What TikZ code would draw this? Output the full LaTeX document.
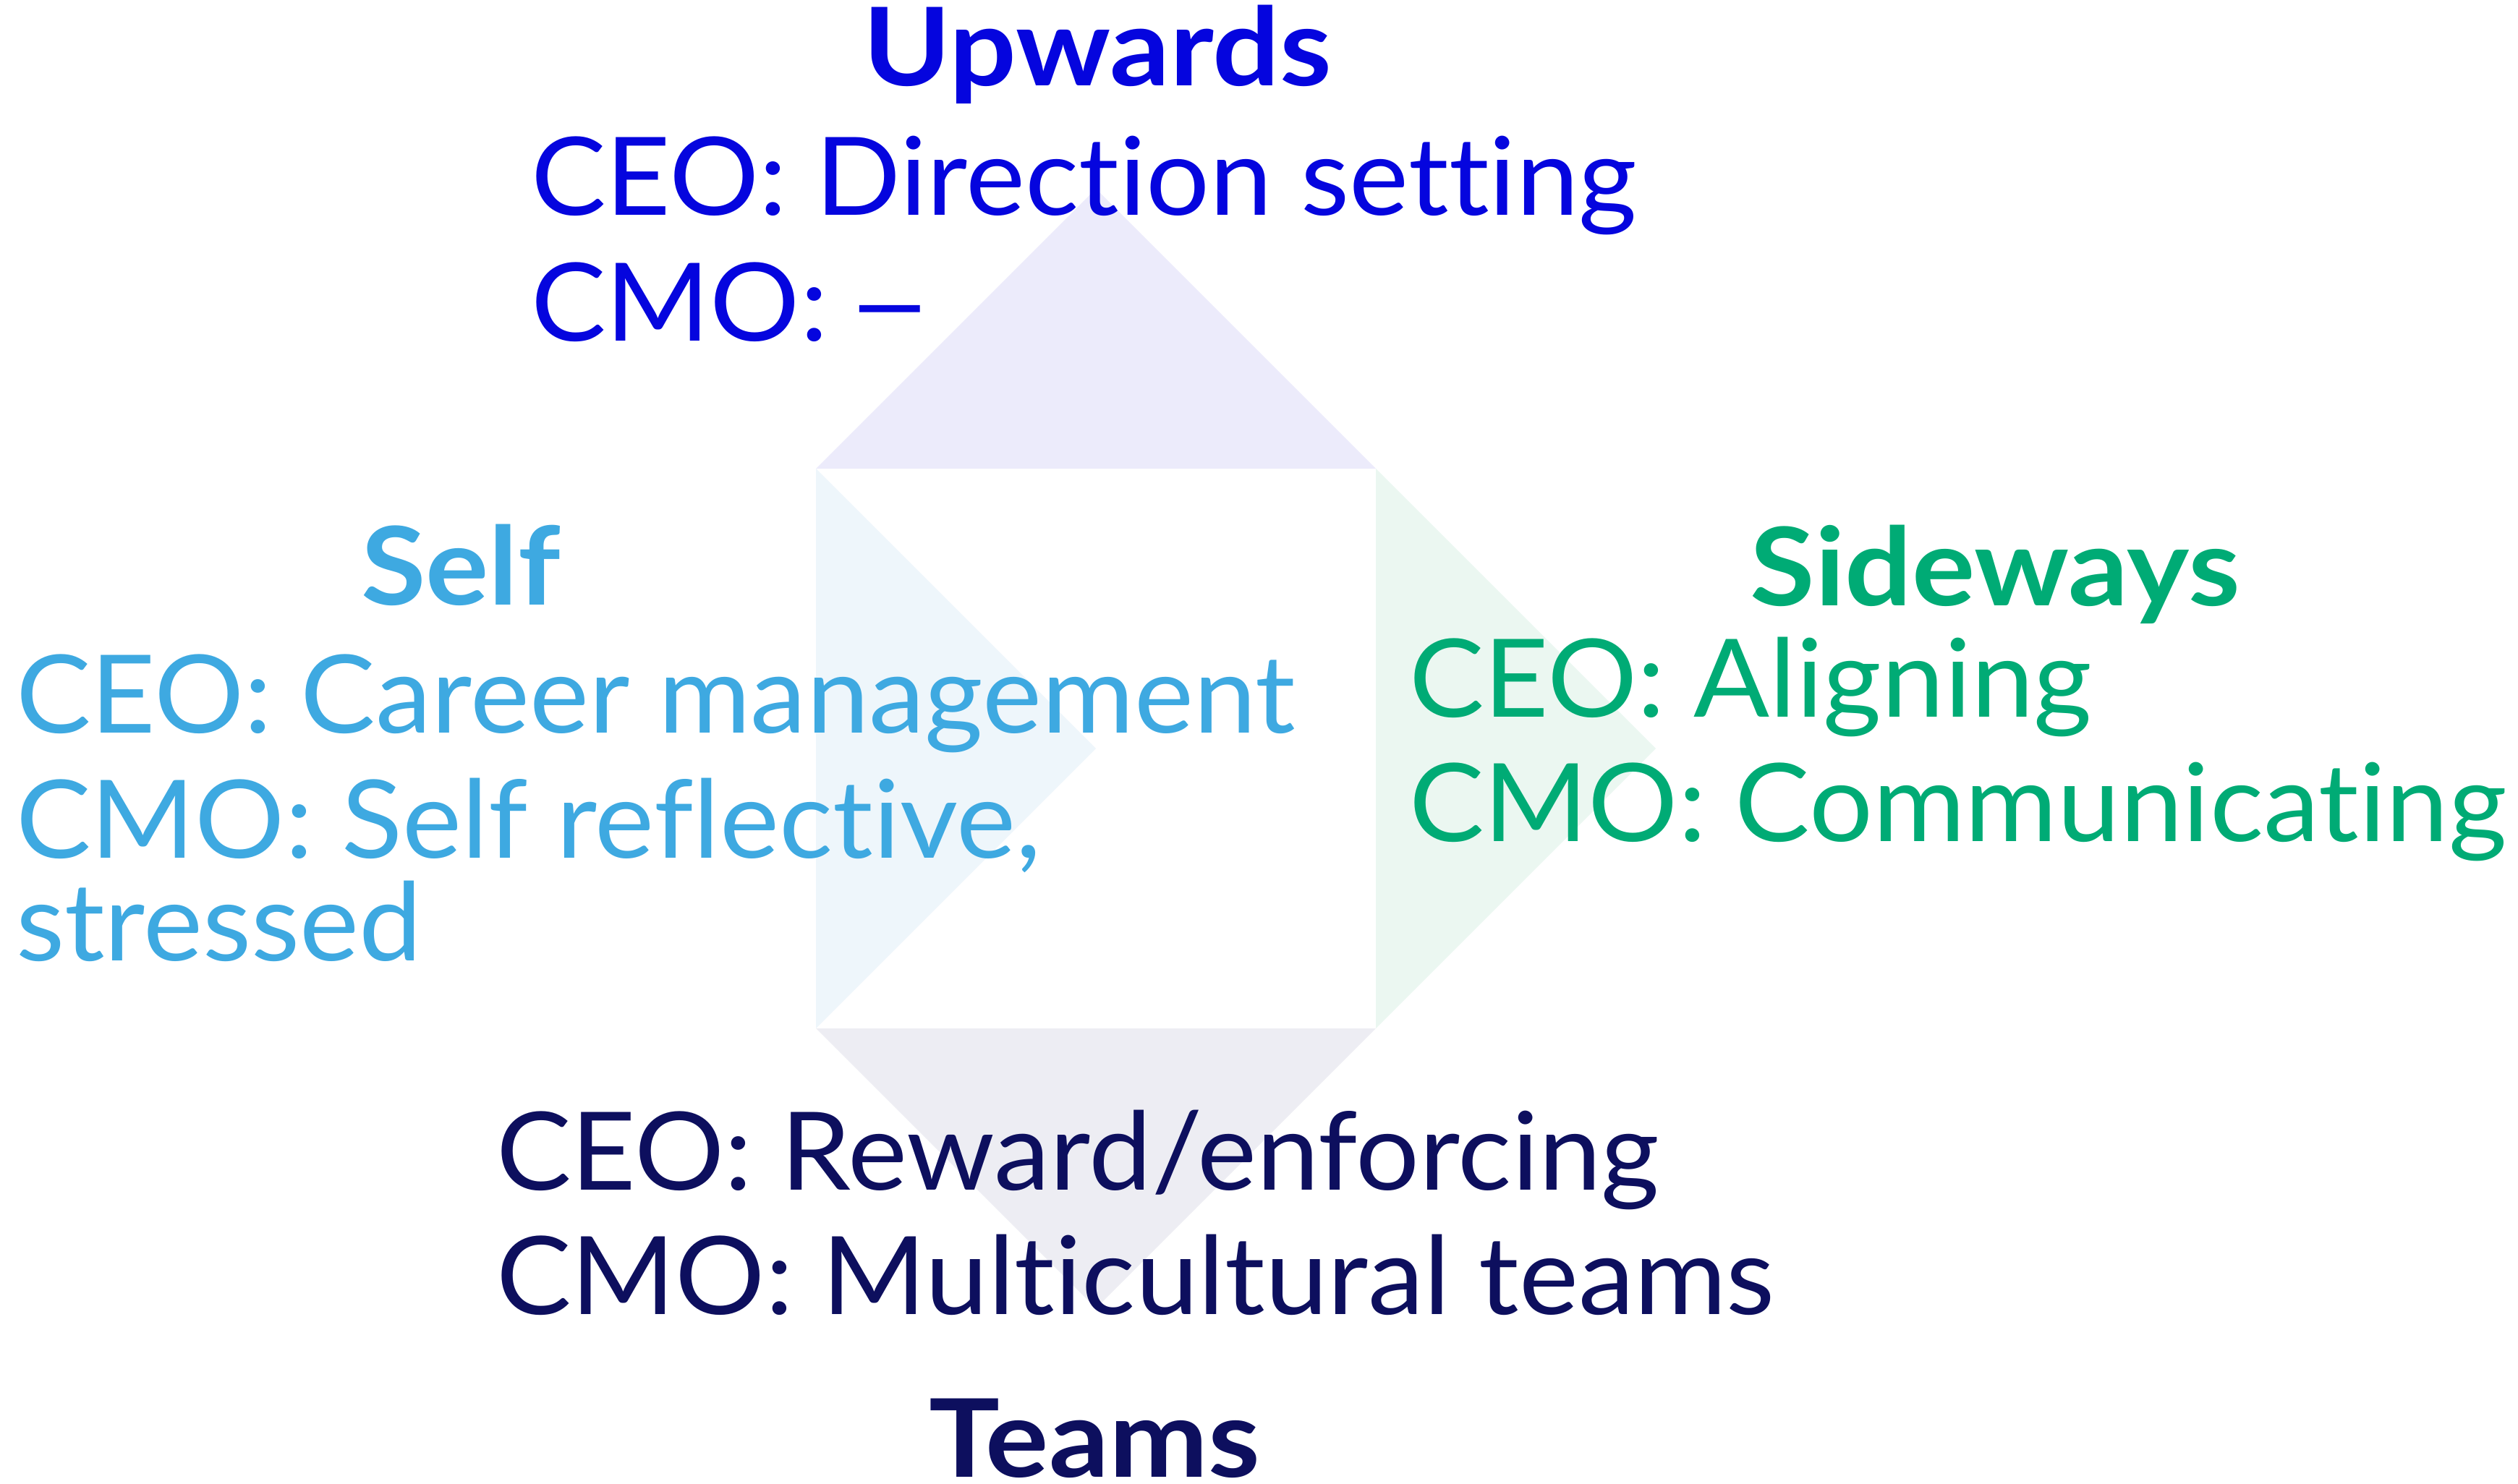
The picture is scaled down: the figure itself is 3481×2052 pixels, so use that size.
\documentclass[tikz,border=0pt]{standalone}
\usepackage{fontspec}
\setmainfont{Lato}[Ligatures=NoCommon,FakeStretch=1.035]
\newfontfamily\headfont{Lato}[Ligatures=NoCommon,FakeStretch=1.09]
\definecolor{upBlue}{HTML}{0505DE}
\definecolor{selfBlue}{HTML}{3EA9E1}
\definecolor{sideGreen}{HTML}{00AB75}
\definecolor{teamNavy}{HTML}{0D0F5E}
\definecolor{upFill}{HTML}{ECEBFB}
\definecolor{selfFill}{HTML}{EEF6FB}
\definecolor{sideFill}{HTML}{EBF7F1}
\definecolor{teamFill}{HTML}{EDEDF3}
\begin{document}
\begin{tikzpicture}[x=0.2pt,y=-0.2pt,
    head/.style={font=\fontsize{30}{36}\headfont\bfseries,inner sep=0pt,anchor=base},
    item/.style={font=\fontsize{30}{36}\selectfont,inner sep=0pt,anchor=base west}]
  \useasboundingbox (0,0) rectangle (3481,2052);
  \def\cx{1515}  % centre of the square
  \def\cy{1035}
  \def\h{387}    % half side = height of a triangle

% define roleLine (#name, #x, #baseline, #color, #text)
  \def\roleLine(#1,#2,#3,#4,#5){
    \node[item,color=#4] (#1) at (#2,#3) {#5};}

  % the four triangles round the square
  \coordinate (sq-nw) at (\cx-\h,\cy-\h);
  \coordinate (sq-ne) at (\cx+\h,\cy-\h);
  \coordinate (sq-sw) at (\cx-\h,\cy+\h);
  \coordinate (sq-se) at (\cx+\h,\cy+\h);
  \fill[upFill]   (sq-nw) -- (\cx,\cy-2*\h) -- (sq-ne) -- cycle;
  \fill[selfFill] (sq-nw) -- (\cx,\cy) -- (sq-sw) -- cycle;
  \fill[sideFill] (sq-ne) -- (\cx+2*\h,\cy) -- (sq-se) -- cycle;
  \fill[teamFill] (sq-sw) -- (\cx,\cy+2*\h) -- (sq-se) -- cycle;

  % headings
  \node[head,color=upBlue]    (up)   at (1517,119)  {Upwards};
  \node[head,color=selfBlue]  (self) at (637,836)   {Self};
  \node[head,color=sideGreen] (side) at (2758,837)  {Sideways};
  \node[head,color=teamNavy]  (team) at (1513,2042) {Teams};

  \roleLine(up-ceo,   733,298,   upBlue,    CEO: Direction setting)
  \roleLine(up-cmo,   733,471,   upBlue,    CMO:\hspace{-3pt} \scalebox{1.35}[1]{–})
  \roleLine(self-ceo, 21,1013,   selfBlue,  CEO: Career management)
  \roleLine(self-cmo, 21,1186,   selfBlue,  CMO: Self reflective{,})
  \roleLine(self-cmo2,21,1328,   selfBlue,  stressed)
  \roleLine(side-ceo, 1947,991,  sideGreen, CEO: Aligning)
  \roleLine(side-cmo, 1947,1163, sideGreen, CMO: Communicating)
  \roleLine(team-ceo, 685,1645,  teamNavy,  CEO: Reward/enforcing)
  \roleLine(team-cmo, 685,1817,  teamNavy,  CMO: Multicultural teams)
\end{tikzpicture}
\end{document}
